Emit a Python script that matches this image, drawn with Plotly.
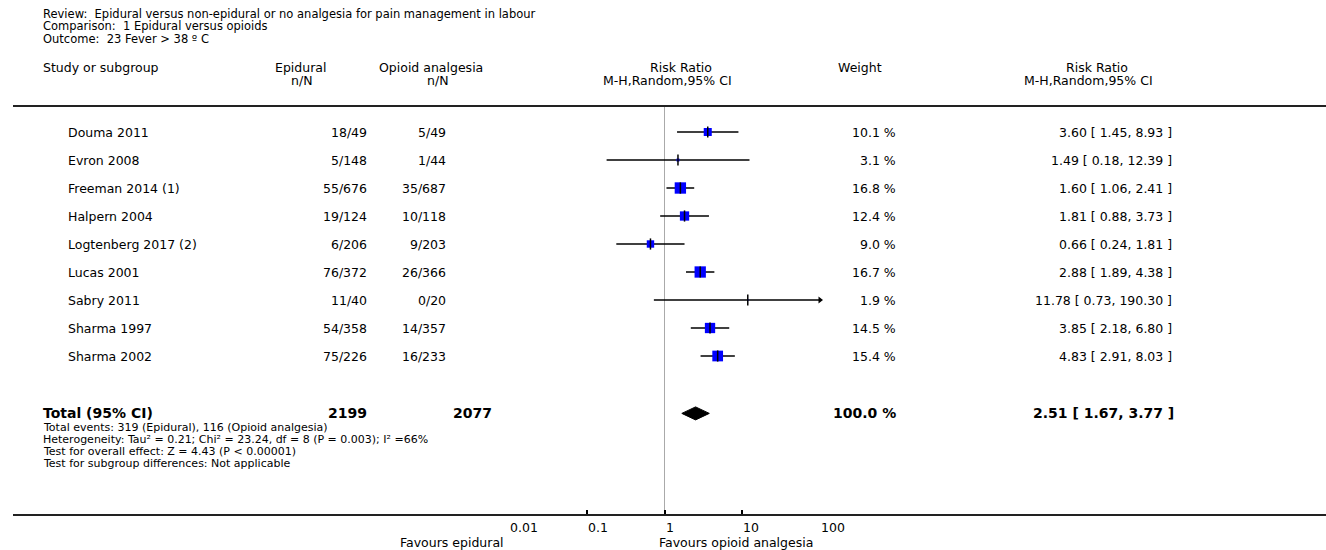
import numpy as np
import plotly.graph_objects as go

# ---------------- data ----------------
title_lines = ["Review:\u00a0\u00a0Epidural versus non-epidural or no analgesia for pain management in labour",
               "Comparison:\u00a0\u00a01 Epidural versus opioids",
               "Outcome:\u00a0\u00a023 Fever &gt; 38 º C"]
studies = ["Douma 2011", "Evron 2008", "Freeman 2014 (1)", "Halpern 2004", "Logtenberg 2017 (2)",
           "Lucas 2001", "Sabry 2011", "Sharma 1997", "Sharma 2002"]
epi_events = [18, 5, 55, 19, 6, 76, 11, 54, 75]
epi_total = [49, 148, 676, 124, 206, 372, 40, 358, 226]
opi_events = [5, 1, 35, 10, 9, 26, 0, 14, 16]
opi_total = [49, 44, 687, 118, 203, 366, 20, 357, 233]
weights = [10.1, 3.1, 16.8, 12.4, 9.0, 16.7, 1.9, 14.5, 15.4]
rr = [3.60, 1.49, 1.60, 1.81, 0.66, 2.88, 11.78, 3.85, 4.83]
rr_lo = [1.45, 0.18, 1.06, 0.88, 0.24, 1.89, 0.73, 2.18, 2.91]
rr_hi = [8.93, 12.39, 2.41, 3.73, 1.81, 4.38, 190.30, 6.80, 8.03]
total_epi = 2199
total_opi = 2077
total_weight = 100.0
total_rr = [2.51, 1.67, 3.77]
footer_lines = ["Total events: 319 (Epidural), 116 (Opioid analgesia)",
                "Heterogeneity: Tau² = 0.21; Chi² = 23.24, df = 8 (P = 0.003); I² =66%",
                "Test for overall effect: Z = 4.43 (P &lt; 0.00001)",
                "Test for subgroup differences: Not applicable"]
tick_vals = [0.01, 0.1, 1, 10, 100]
tick_text = ["0.01", "0.1", "1", "10", "100"]
favours_left = "Favours epidural"
favours_right = "Favours opioid analgesia"

# ---------------- layout helpers ----------------
W, H = 1326, 550
FONT = "DejaVu Sans"
FS = 12.5
BFS = 14
ROW0_PX, ROW_H = 132, 28.0
TOTAL_ROW = 10.05
x_lo, x_hi = tick_vals[0], tick_vals[-1]


def px(x):
    return x / W


def py(y):
    return 1 - y / H


fig = go.Figure()
n = len(studies)
rows = list(range(n))

# CI lines
for i in rows:
    lo_c = max(rr_lo[i], x_lo)
    hi_c = min(rr_hi[i], x_hi)
    fig.add_trace(go.Scatter(x=[lo_c, hi_c], y=[i, i], mode="lines",
                             line=dict(color="black", width=1.5), hoverinfo="skip", showlegend=False))
    if rr_hi[i] > x_hi:
        fig.add_trace(go.Scatter(x=[x_hi], y=[i], mode="markers", cliponaxis=False,
                                 marker=dict(symbol="triangle-right", size=6, color="black", opacity=1),
                                 hoverinfo="skip", showlegend=False))

# squares (side grows with sqrt of weight)
sq_size = [max(0.0, 3.6 * np.sqrt(w) - 3.4) for w in weights]
fig.add_trace(go.Scatter(x=rr, y=rows, mode="markers",
                         marker=dict(symbol="square", size=sq_size, color="#0000FF",
                                     opacity=1, line=dict(width=0)),
                         hoverinfo="skip", showlegend=False))
# point-estimate ticks
fig.add_trace(go.Scatter(x=rr, y=rows, mode="markers",
                         marker=dict(symbol="line-ns", size=8, opacity=1, line=dict(color="black", width=1.5)),
                         hoverinfo="skip", showlegend=False))
# diamond
dh = 6.5 / ROW_H
fig.add_trace(go.Scatter(x=[total_rr[1], total_rr[0], total_rr[2], total_rr[0], total_rr[1]],
                         y=[TOTAL_ROW, TOTAL_ROW - dh, TOTAL_ROW, TOTAL_ROW + dh, TOTAL_ROW],
                         mode="lines", fill="toself", fillcolor="black",
                         line=dict(color="black", width=1), hoverinfo="skip", showlegend=False))

ann = []


def txt(x, y, s, anchor="left", bold=False, size=None, yref="paper"):
    ann.append(dict(x=px(x), y=(py(y) if yref == "paper" else y), xref="paper", yref=yref, text=s,
                    showarrow=False, xanchor=anchor, yanchor="middle", borderpad=0,
                    font=dict(family=FONT, size=size or (BFS if bold else FS), color="black")))


# titles
for k, s in enumerate(title_lines):
    txt(42, 14 + 12.4 * k, s, size=11.5)
# headers
txt(42, 67, "Study or subgroup")
txt(300, 67, "Epidural", "center")
txt(301, 80, "n/N", "center")
txt(431, 67, "Opioid analgesia", "center")
txt(437, 80, "n/N", "center")
txt(681, 67, "Risk Ratio", "center")
txt(667, 80, "M-H,Random,95% CI", "center")
txt(860, 67, "Weight", "center")
txt(1097, 67, "Risk Ratio", "center")
txt(1088, 80, "M-H,Random,95% CI", "center")

# study rows
for i in rows:
    txt(67, i, studies[i], yref="y")
    txt(368, i, f"{epi_events[i]}/{epi_total[i]}", "right", yref="y")
    txt(447, i, f"{opi_events[i]}/{opi_total[i]}", "right", yref="y")
    txt(897, i, f"{weights[i]:.1f} %", "right", yref="y")
    txt(1173, i, f"{rr[i]:.2f} [ {rr_lo[i]:.2f}, {rr_hi[i]:.2f} ]", "right", yref="y")

# total row
txt(42, TOTAL_ROW, "<b>Total (95% CI)</b>", bold=True, yref="y")
txt(368, TOTAL_ROW, f"<b>{total_epi}</b>", "right", bold=True, yref="y")
txt(493, TOTAL_ROW, f"<b>{total_opi}</b>", "right", bold=True, yref="y")
txt(897, TOTAL_ROW, f"<b>{total_weight:.1f} %</b>", "right", bold=True, yref="y")
txt(1175, TOTAL_ROW, f"<b>{total_rr[0]:.2f} [ {total_rr[1]:.2f}, {total_rr[2]:.2f} ]</b>", "right",
    bold=True, yref="y")

for k, s in enumerate(footer_lines):
    txt(42, 427 + 12.3 * k, s, size=11)

# axis tick labels (left-aligned at tick)
for v, s in zip(tick_vals, tick_text):
    ann.append(dict(x=np.log10(v), y=py(527), xref="x", yref="paper", text=s, showarrow=False,
                    xanchor="left", yanchor="middle", borderpad=0,
                    font=dict(family=FONT, size=FS, color="black")))
txt(505, 542, favours_left, "right")
txt(658, 542, favours_right, "left")

shapes = [
    dict(type="line", xref="paper", yref="paper", x0=px(13), x1=1, y0=py(106), y1=py(106),
         line=dict(color="#222", width=2)),
    dict(type="line", xref="paper", yref="paper", x0=px(13), x1=1, y0=py(515), y1=py(515),
         line=dict(color="#222", width=2)),
    dict(type="line", xref="x", yref="paper", x0=1, x1=1, y0=py(107), y1=py(514),
         line=dict(color="#aaaaaa", width=1), layer="below"),
]

y_top = -ROW0_PX / ROW_H
y_bot = (H - ROW0_PX) / ROW_H

fig.update_layout(
    width=W, height=H, margin=dict(l=0, r=0, t=0, b=0),
    paper_bgcolor="white", plot_bgcolor="white",
    annotations=ann, shapes=shapes, showlegend=False,
    xaxis=dict(type="log", domain=[px(509), px(820)], range=[np.log10(x_lo), np.log10(x_hi)],
               anchor="free", position=py(515), side="bottom",
               tickvals=tick_vals, showticklabels=False, ticks="inside", ticklen=5, tickwidth=1.5,
               tickcolor="black", showgrid=False, zeroline=False, showline=False, fixedrange=True),
    yaxis=dict(domain=[0, 1], range=[y_bot, y_top], visible=False, fixedrange=True),
)

fig.write_html("out.html", config={"displayModeBar": False},
               post_script="document.body.style.margin='0';document.body.style.padding='0';")
